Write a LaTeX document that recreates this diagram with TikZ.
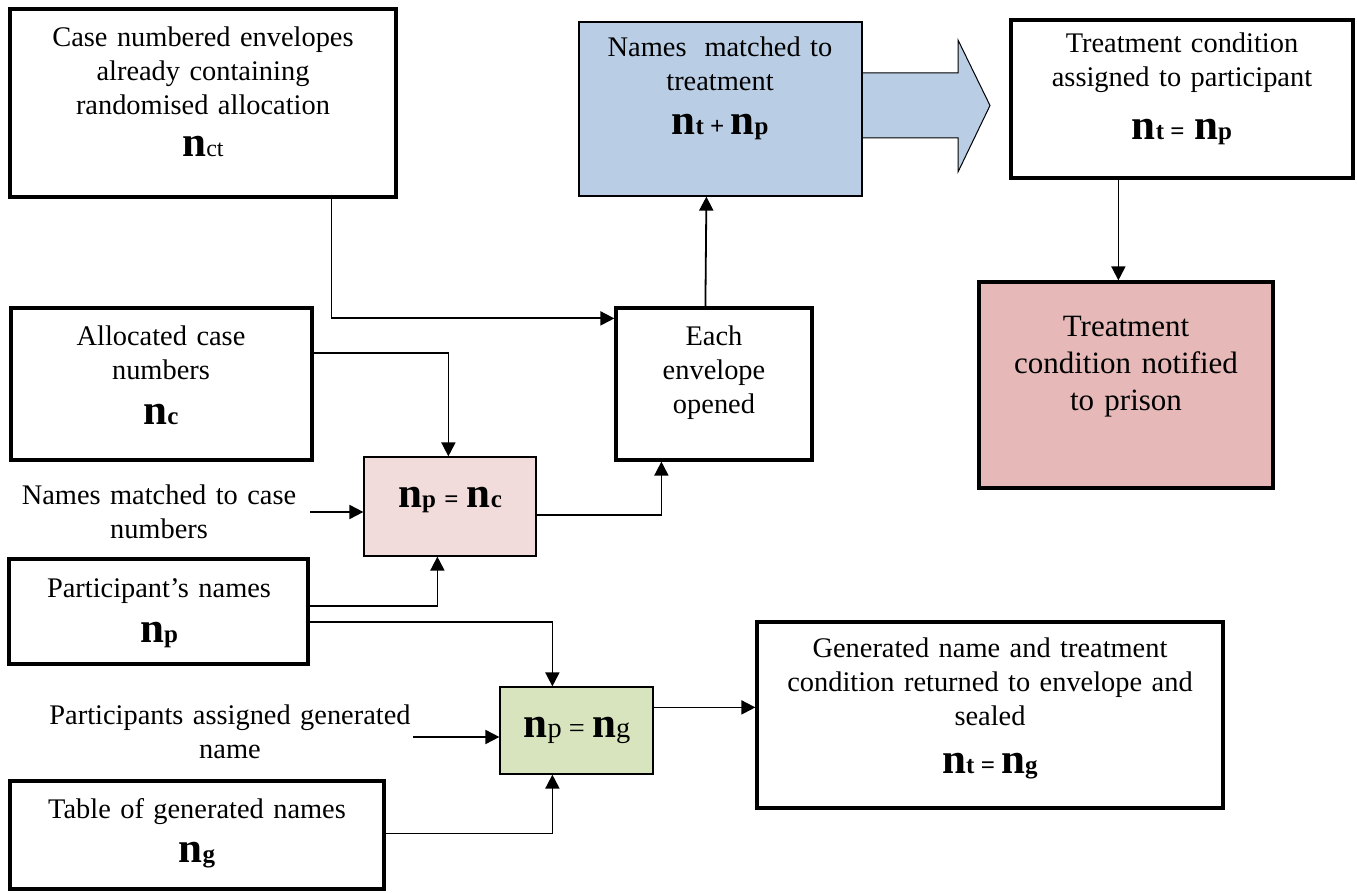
\documentclass[tikz,border=0pt]{standalone}
\usepackage{fontspec}
\setmainfont{Liberation Serif}
\usetikzlibrary{arrows.meta,calc,fit}
\definecolor{blueF}{HTML}{B9CDE5}
\definecolor{pinkF}{HTML}{F2DCDB}
\definecolor{redF}{HTML}{E6B9B8}
\definecolor{greenF}{HTML}{D7E4BD}
\newcommand\bigN{{\fontsize{21.5}{22}\selectfont\bfseries n}}
\newcommand\subB[1]{{\fontsize{12.5}{13}\selectfont\bfseries #1}}
\newcommand\subR[1]{{\fontsize{12}{12}\selectfont #1}}
\newcommand\subM[1]{{\fontsize{14.2}{16}\selectfont #1}}
\begin{document}
\begin{tikzpicture}[x=0.5pt,y=-0.5pt,
 tbox/.style={draw, line width=1.6pt, inner sep=0pt},
 fbox/.style={draw, line width=0.6pt, inner sep=0pt},
 txt/.style={font=\fontsize{14.2}{16.8}\selectfont, align=center, text width=220pt, inner sep=0pt, anchor=base},
 bigtxt/.style={font=\fontsize{15.5}{18.5}\selectfont, align=center, text width=220pt, inner sep=0pt, anchor=base},
 frm/.style={inner sep=0pt, anchor=base},
 arr/.style={line width=0.9pt, -{Triangle[length=7pt,width=7pt]}}]
\useasboundingbox (0,0) rectangle (1357,893);
\fill[white] (0,0) rectangle (1357,893);

% block arrow
\coordinate (ba) at (862,105.5);
\filldraw[fill=blueF, draw=black, line width=0.5pt]
  ($(ba)+(0,-32.5)$) -- ($(ba)+(96,-32.5)$) -- ($(ba)+(96,-65.5)$) -- ($(ba)+(128,0)$)
  -- ($(ba)+(96,66.5)$) -- ($(ba)+(96,32.5)$) -- ($(ba)+(0,32.5)$);

% boxes
\node[tbox, fit={(10,9) (396,197)}] (case) {};
\node[fbox, fill=blueF, fit={(579,22) (862,196)}] (blue) {};
\node[tbox, fit={(1011,20) (1353,178)}] (assign) {};
\node[tbox, fill=redF, fit={(979,282) (1273,488)}] (notif) {};
\node[tbox, fit={(11,308) (312,460)}] (alloc) {};
\node[fbox, fill=pinkF, fit={(364,457) (536,556)}] (pink) {};
\node[tbox, fit={(9,559) (308,664)}] (part) {};
\node[tbox, fit={(616,308) (812,460)}] (env) {};
\node[fbox, fill=greenF, fit={(500,687) (653,774)}] (green) {};
\node[tbox, fit={(10,781) (384,889)}] (table) {};
\node[tbox, fit={(757,622) (1223,808)}] (gen) {};

% texts
\node[txt] (caseT) at (203,47) {Case numbered envelopes\\already containing\\randomised allocation};
\node[frm] (caseF) at (203,157) {\bigN\subR{ct}};
\node[txt] (blueT) at (720,57) {Names\hspace{0.3em} matched to\\treatment};
\node[frm] (blueF) at (720,135) {\bigN\subB{t + }\bigN\subB{p}};
\node[txt] (assignT) at (1182,53) {Treatment condition\\assigned to participant};
\node[frm] (assignF) at (1182,140) {\bigN\subB{t = }\,\bigN\subB{p}};
\node[bigtxt] (notifT) at (1126,337) {Treatment\\condition notified\\to prison};
\node[txt] (allocT) at (161,346) {Allocated case\\numbers};
\node[frm] (allocF) at (161,425) {\bigN\subB{c}};
\node[txt] (nmcT) at (159,505) {Names matched to case\\numbers};
\node[frm] (pinkF) at (450,508) {\bigN\subB{p}\,~\subB{=}~\,\bigN\subB{c}};
\node[txt] (partT) at (159,597) {Participant’s names};
\node[frm] (partF) at (159,643) {\bigN\subB{p}};
\node[txt] (envT) at (714,346) {Each\\envelope\\opened};
\node[frm] (greenF) at (577,737) {\bigN\subM{p = }\bigN\subM{g}};
\node[txt] (pagT) at (230,725) {Participants assigned generated\\name};
\node[txt] (tableT) at (197,818) {Table of generated names};
\node[frm] (tableF) at (197,863) {\bigN\subB{g}};
\node[txt] (genT) at (990,658) {Generated name and treatment\\condition returned to envelope and\\sealed};
\node[frm] (genF) at (990,773) {\bigN\subB{t = }\bigN\subB{g}};

% free ends
\coordinate (nmcA) at (310,512);
\coordinate (pagA) at (413,737);

% connectors
\draw[arr] ($(case.south west)+(323,0)$) |- ($(env.north west)+(0,12)$);
\draw[arr] ($(alloc.north east)+(0,47)$) -| ($(pink.north west)+(85,0)$);
\draw[arr] (nmcA) -- (nmcA -| pink.west);
\draw[arr] ($(pink.north east)+(0,59)$) -| ($(env.south west)+(47,0)$);
\draw[arr] ($(env.north west)+(91,0)$) -- ($(blue.south west)+(128,0)$);
\draw[arr] ($(assign.south west)+(109,0)$) -- ($(notif.north west)+(141,0)$);
\draw[arr] ($(part.north east)+(0,49)$) -| ($(pink.south west)+(74,0)$);
\draw[arr] ($(part.north east)+(0,65)$) -| ($(green.north west)+(53,0)$);
\draw[arr] (pagA) -- (pagA -| green.west);
\draw[arr] ($(table.north east)+(0,54)$) -| ($(green.south west)+(53,0)$);
\draw[arr] ($(green.north east)+(0,21)$) coordinate (g1) -- (g1 -| gen.west);
\end{tikzpicture}
\end{document}
